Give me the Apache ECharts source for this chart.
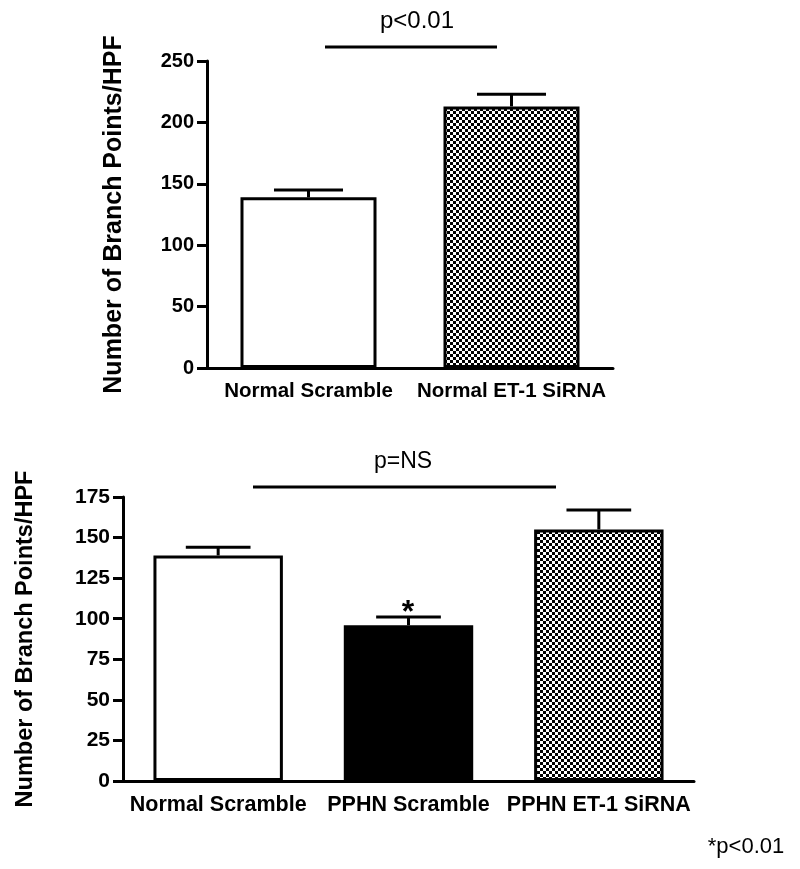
<!DOCTYPE html>
<html>
<head>
<meta charset="utf-8">
<title>Branch points</title>
<script src="https://cdn.jsdelivr.net/npm/echarts@6/dist/echarts.min.js"></script>
<style>
  html, body { margin: 0; padding: 0; background: #fff; }
  #chart { width: 800px; height: 869px; }
</style>
</head>
<body>
<div id="chart"></div>
<script>
// top panel
const topCategories = ['Normal Scramble', 'Normal ET-1 SiRNA'];
const topMeans = [139, 213];
const topErrors = [6, 10];
const topFills = ['white', 'checker'];
const topTicks = [0, 50, 100, 150, 200, 250];

// bottom panel
const bottomCategories = ['Normal Scramble', 'PPHN Scramble', 'PPHN ET-1 SiRNA'];
const bottomMeans = [139, 96, 155];
const bottomErrors = [5, 5, 12];
const bottomFills = ['white', 'black', 'checker'];
const bottomTicks = [0, 25, 50, 75, 100, 125, 150, 175];

const font = '"Liberation Sans", Arial, sans-serif';

// small checkerboard used as bar fill
function makeChecker(cell) {
  const c = document.createElement('canvas');
  c.width = c.height = cell * 2;
  const ctx = c.getContext('2d');
  ctx.fillStyle = '#fff';
  ctx.fillRect(0, 0, cell * 2, cell * 2);
  ctx.fillStyle = '#000';
  ctx.fillRect(0, 0, cell, cell);
  ctx.fillRect(cell, cell, cell, cell);
  return c;
}
const checker = { image: makeChecker(3), repeat: 'repeat' };

function fillOf(name) {
  if (name === 'checker') return checker;
  return name === 'black' ? '#000' : '#fff';
}

function barData(means, fills) {
  return means.map((v, i) => ({
    value: v,
    itemStyle: { color: fillOf(fills[i]), borderColor: '#000', borderWidth: 3 }
  }));
}

function errData(means, errors) {
  return means.map((v, i) => [i, v, v + errors[i]]);
}

// upward error bar with a cap
function renderError(params, api) {
  const x = api.value(0);
  const lo = api.coord([x, api.value(1)]);
  const hi = api.coord([x, api.value(2)]);
  const half = api.size([1, 0])[0] * 0.17;
  const st = { stroke: '#000', lineWidth: 3 };
  return {
    type: 'group',
    children: [
      { type: 'line', shape: { x1: lo[0], y1: lo[1], x2: hi[0], y2: hi[1] }, style: st },
      { type: 'line', shape: { x1: hi[0] - half, y1: hi[1], x2: hi[0] + half, y2: hi[1] }, style: st }
    ]
  };
}

function xAxisOf(grid, cats, size) {
  return {
    gridIndex: grid,
    type: 'category',
    data: cats,
    axisLine: { lineStyle: { color: '#000', width: 3 } },
    axisTick: { alignWithLabel: true, length: 10, lineStyle: { color: '#000', width: 3 } },
    axisLabel: { color: '#000', fontSize: size, fontWeight: 'bold', fontFamily: font, margin: 13, interval: 0 }
  };
}

function yAxisOf(grid, ticks, gap, nameSize, labelSize) {
  return {
    gridIndex: grid,
    type: 'value',
    min: ticks[0],
    max: ticks[ticks.length - 1],
    interval: ticks[1] - ticks[0],
    name: 'Number of Branch Points/HPF',
    nameLocation: 'middle',
    nameRotate: 90,
    nameGap: gap,
    nameTextStyle: { color: '#000', fontSize: nameSize, fontWeight: 'bold', fontFamily: font },
    axisLine: { show: true, lineStyle: { color: '#000', width: 3 } },
    axisTick: { show: true, length: 10, lineStyle: { color: '#000', width: 3 } },
    axisLabel: { color: '#000', fontSize: labelSize, fontWeight: 'bold', fontFamily: font, margin: 13 },
    splitLine: { show: false }
  };
}

const chart = echarts.init(document.getElementById('chart'));
chart.setOption({
  backgroundColor: '#fff',
  animation: false,
  grid: [
    { left: 207, top: 61, width: 406, height: 307 },
    { left: 123, top: 497, width: 571, height: 284 }
  ],
  xAxis: [xAxisOf(0, topCategories, 20.5), xAxisOf(1, bottomCategories, 21.5)],
  yAxis: [yAxisOf(0, topTicks, 80, 25, 20), yAxisOf(1, bottomTicks, 85, 23.5, 21)],
  series: [
    { type: 'bar', xAxisIndex: 0, yAxisIndex: 0, barWidth: '67%', data: barData(topMeans, topFills) },
    { type: 'custom', xAxisIndex: 0, yAxisIndex: 0, renderItem: renderError, data: errData(topMeans, topErrors), z: 3 },
    { type: 'bar', xAxisIndex: 1, yAxisIndex: 1, barWidth: '68%', data: barData(bottomMeans, bottomFills) },
    { type: 'custom', xAxisIndex: 1, yAxisIndex: 1, renderItem: renderError, data: errData(bottomMeans, bottomErrors), z: 3 }
  ],
  graphic: [
    { type: 'text', x: 417, y: 21, style: { text: 'p<0.01', font: '24px ' + font, fill: '#000', textAlign: 'center', textVerticalAlign: 'middle' } },
    { type: 'line', shape: { x1: 325, y1: 47, x2: 497, y2: 47 }, style: { stroke: '#000', lineWidth: 3 } },
    { type: 'text', x: 403, y: 462, style: { text: 'p=NS', font: '23px ' + font, fill: '#000', textAlign: 'center', textVerticalAlign: 'middle' } },
    { type: 'line', shape: { x1: 253, y1: 487, x2: 556, y2: 487 }, style: { stroke: '#000', lineWidth: 3 } },
    { type: 'text', x: 408, y: 597, style: { text: '*', font: 'bold 32px ' + font, fill: '#000', textAlign: 'center', textVerticalAlign: 'top' } },
    { type: 'text', x: 746, y: 847, style: { text: '*p<0.01', font: '22px ' + font, fill: '#000', textAlign: 'center', textVerticalAlign: 'middle' } }
  ]
});
</script>
</body>
</html>
